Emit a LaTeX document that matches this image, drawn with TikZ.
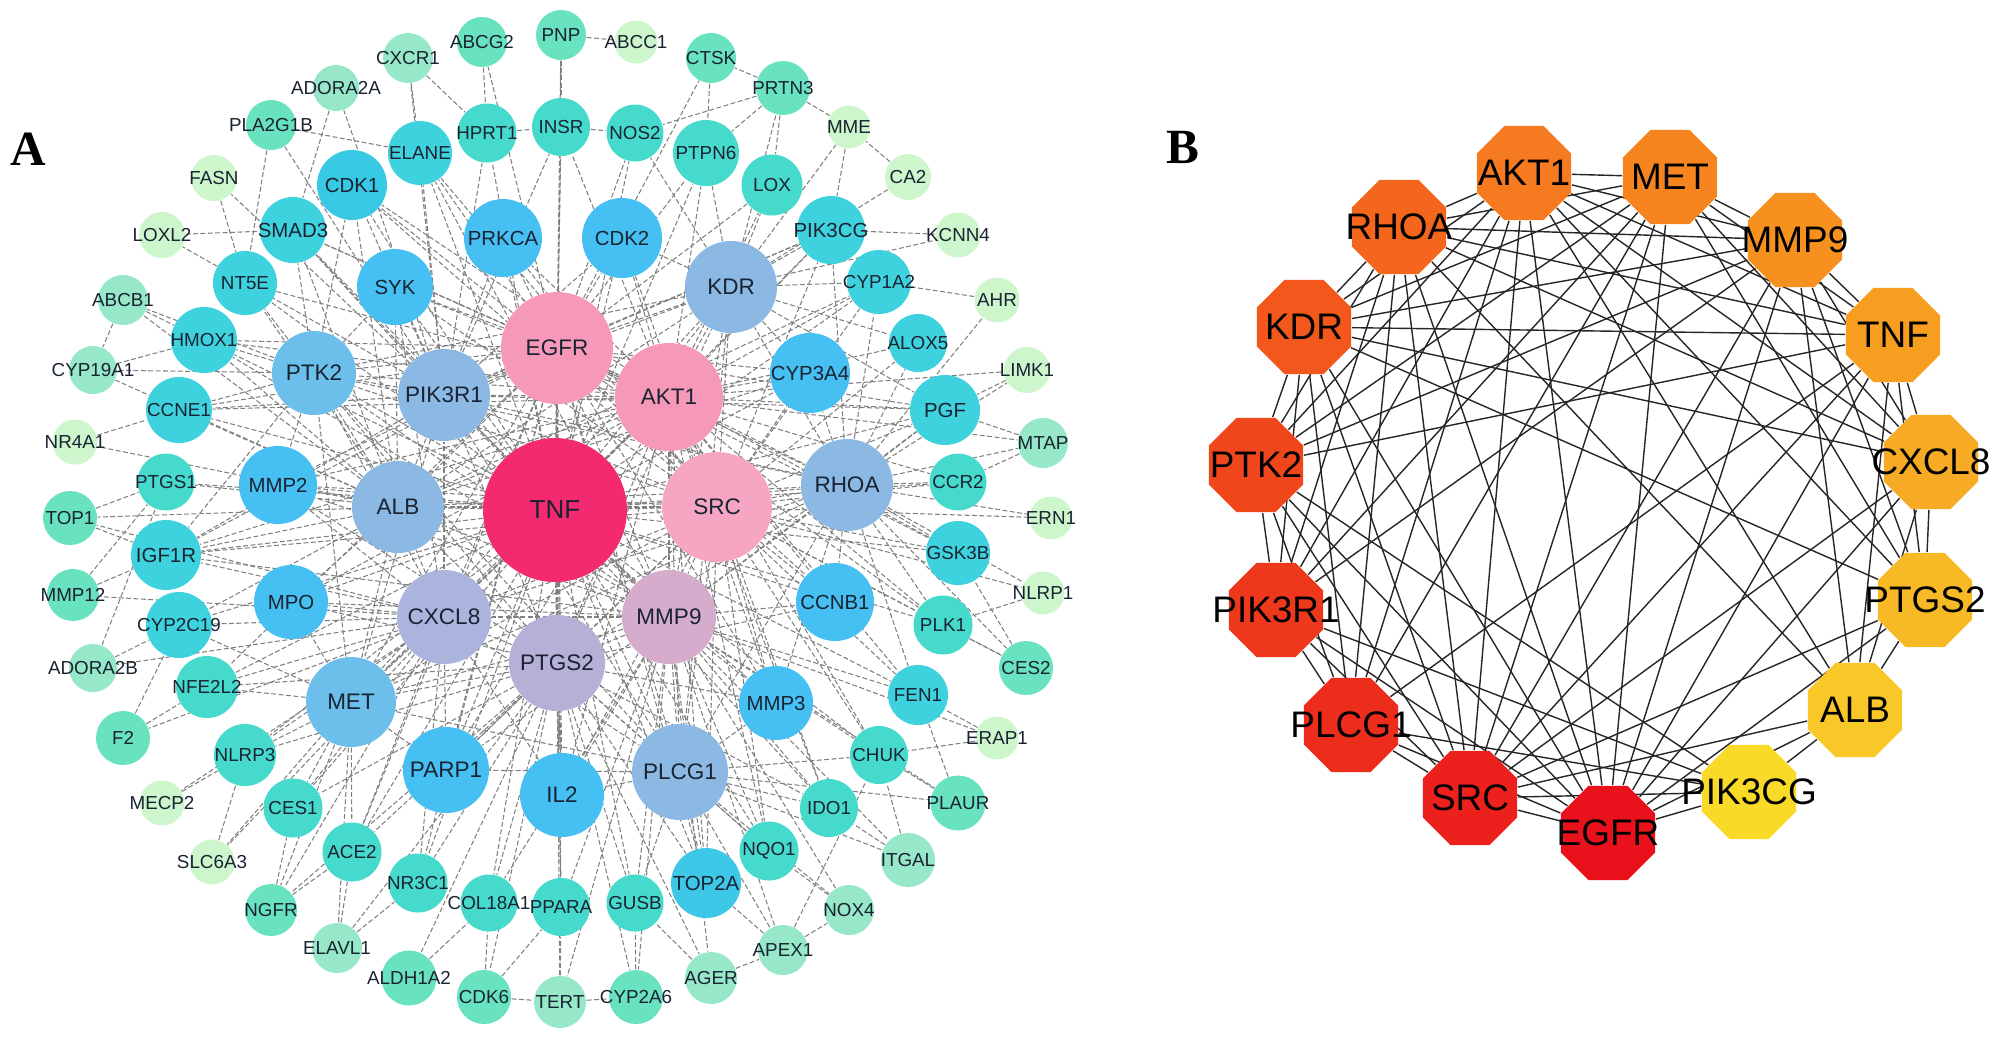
\documentclass[tikz,border=0pt]{standalone}
\usepackage{fontspec}
\setmainfont{Liberation Sans}
\newfontfamily\panelfont{Liberation Serif}
\usetikzlibrary{shapes.geometric}

% node colours, panel A
\definecolor{cTNF}{RGB}{244,42,112}
\definecolor{cPink}{RGB}{246,152,184}
\definecolor{cPinkL}{RGB}{246,166,194}
\definecolor{cMauve}{RGB}{214,172,205}
\definecolor{cLav}{RGB}{182,176,215}
\definecolor{cLavB}{RGB}{170,180,220}
\definecolor{cSteel}{RGB}{140,185,228}
\definecolor{cSteelB}{RGB}{108,190,235}
\definecolor{cSky}{RGB}{70,192,242}
\definecolor{cSkyC}{RGB}{62,200,232}
\definecolor{cCyanB}{RGB}{56,202,228}
\definecolor{cCyan}{RGB}{62,210,222}
\definecolor{cTeal}{RGB}{70,218,205}
\definecolor{cGreen}{RGB}{105,226,192}
\definecolor{cMint}{RGB}{150,232,200}
\definecolor{cPale}{RGB}{205,246,205}
\definecolor{ink}{RGB}{25,35,50}
\definecolor{linkgray}{RGB}{128,128,128}
% node colours, panel B
\definecolor{hEGFR}{RGB}{233,18,28}
\definecolor{hSRC}{RGB}{236,32,28}
\definecolor{hPLCG1}{RGB}{237,45,28}
\definecolor{hPIK3R1}{RGB}{238,56,28}
\definecolor{hPTK2}{RGB}{240,70,28}
\definecolor{hKDR}{RGB}{242,88,28}
\definecolor{hRHOA}{RGB}{243,102,28}
\definecolor{hAKT1}{RGB}{245,122,32}
\definecolor{hMET}{RGB}{246,133,32}
\definecolor{hMMP9}{RGB}{246,145,32}
\definecolor{hTNF}{RGB}{247,158,32}
\definecolor{hCXCL8}{RGB}{247,170,35}
\definecolor{hPTGS2}{RGB}{248,185,38}
\definecolor{hALB}{RGB}{249,200,40}
\definecolor{hPIK3CG}{RGB}{250,218,40}

\pgfdeclarelayer{edges}
\pgfsetlayers{edges,main}

\tikzset{%
	gene/.style    = {circle, inner sep=0pt, draw=none},
	octo/.style    = {regular polygon, regular polygon sides=8, inner sep=0pt, minimum size=1.02cm, draw=none},
	txtH/.style    = {font=\fontsize{7.4}{8}\selectfont, text=ink, inner sep=0pt},
	txtL/.style    = {font=\fontsize{6.4}{7}\selectfont, text=ink, inner sep=0pt},
	txtM/.style    = {font=\fontsize{5.8}{6.5}\selectfont, text=ink, inner sep=0pt},
	txtS/.style    = {font=\fontsize{5.35}{6}\selectfont, text=ink, inner sep=0pt},
	octolab/.style = {font=\fontsize{10.5}{12}\selectfont, text=black, inner sep=0pt},
	link/.style    = {draw=linkgray, line width=0.3pt, dash pattern=on 1.4pt off 0.7pt},
	blink/.style   = {draw=black!85, line width=0.4pt},
	panel/.style   = {font=\panelfont\bfseries\fontsize{14}{16}\selectfont, inner sep=0pt},
}

\begin{document}
\begin{tikzpicture}[x=0.01cm,y=-0.01cm]
\useasboundingbox (0,0) rectangle (2000,1047);

% ---- A: full network
\node[panel] (labA) at (28,149) {A};
\foreach \gn/\x/\y/\d/\c/\f in {
	TNF/555/510/144/cTNF/txtH, EGFR/557/348/112/cPink/txtL, AKT1/669/397/108/cPink/txtL,
	SRC/717/507/110/cPinkL/txtL, MMP9/669/617/94/cMauve/txtL, PTGS2/557/663/96/cLav/txtL,
	CXCL8/444/617/94/cLavB/txtL, ALB/398/507/92/cSteel/txtL, PIK3R1/444/395/92/cSteel/txtL,
	RHOA/847/485/92/cSteel/txtL, KDR/731/287/92/cSteel/txtL, PLCG1/680/772/96/cSteel/txtL,
	MET/351/702/90/cSteelB/txtL, PTK2/314/373/84/cSteelB/txtL, PARP1/446/770/86/cSky/txtL,
	IL2/562/795/84/cSky/txtL,
	SYK/395/287/76/cSky/txtM, PRKCA/503/238/78/cSky/txtM, CDK2/622/238/80/cSky/txtM,
	CYP3A4/810/373/80/cSky/txtM, MMP2/278/485/78/cSky/txtM, MPO/291/602/74/cSky/txtM,
	CCNB1/835/602/78/cSky/txtM, MMP3/776/703/74/cSky/txtM, TOP2A/706/883/70/cSkyC/txtM,
	CDK1/352/185/70/cCyanB/txtM, SMAD3/293/230/66/cCyan/txtM, PIK3CG/831/230/68/cCyan/txtM,
	PGF/945/410/70/cCyan/txtM, IGF1R/166/555/70/cCyan/txtM,
	GSK3B/958/553/64/cCyan/txtS, CCNE1/179/410/66/cCyan/txtS, NT5E/245/283/64/cCyan/txtS,
	HMOX1/204/340/66/cCyan/txtS, ELANE/420/153/64/cCyan/txtS, CYP1A2/879/282/64/cCyan/txtS,
	ALOX5/918/343/58/cCyan/txtS, FEN1/918/695/60/cCyan/txtS, CYP2C19/179/625/66/cCyan/txtS,
	CHUK/879/755/58/cTeal/txtS, IDO1/829/808/58/cTeal/txtS, NQO1/769/851/59/cTeal/txtS,
	PTPN6/706/153/66/cTeal/txtS, LOX/772/185/61/cTeal/txtS, INSR/561/127/58/cTeal/txtS,
	HPRT1/487/133/59/cTeal/txtS, NOS2/635/133/57/cTeal/txtS, CCR2/958/482/57/cTeal/txtS,
	PLK1/943/625/59/cTeal/txtS, PTGS1/166/482/57/cTeal/txtS, NFE2L2/207/687/62/cTeal/txtS,
	NLRP3/245/755/62/cTeal/txtS, CES1/293/808/59/cTeal/txtS, ACE2/352/852/59/cTeal/txtS,
	NR3C1/418/883/59/cTeal/txtS, COL18A1/489/903/57/cTeal/txtS, PPARA/561/907/58/cTeal/txtS,
	GUSB/635/903/57/cTeal/txtS,
	ABCG2/482/42/50/cGreen/txtS, PNP/561/35/50/cGreen/txtS, ABCC1/636/42/43/cPale/txtS,
	CXCR1/408/58/50/cMint/txtS, CTSK/711/58/50/cGreen/txtS, ADORA2A/336/88/46/cMint/txtS,
	PRTN3/783/88/54/cGreen/txtS, PLA2G1B/271/125/50/cGreen/txtS, MME/849/127/43/cPale/txtS,
	FASN/214/178/46/cPale/txtS, CA2/908/177/46/cPale/txtS, LOXL2/162/235/46/cPale/txtS,
	KCNN4/958/235/45/cPale/txtS, ABCB1/123/300/50/cMint/txtS, AHR/997/300/45/cPale/txtS,
	CYP19A1/93/370/48/cMint/txtS, LIMK1/1027/370/46/cPale/txtS, NR4A1/75/442/45/cPale/txtS,
	MTAP/1043/443/50/cMint/txtS, TOP1/70/518/54/cGreen/txtS, ERN1/1051/518/43/cPale/txtS,
	MMP12/73/595/52/cGreen/txtS, NLRP1/1043/593/43/cPale/txtS, ADORA2B/93/668/48/cMint/txtS,
	CES2/1026/668/54/cGreen/txtS, F2/123/738/54/cGreen/txtS, ERAP1/997/738/43/cPale/txtS,
	MECP2/162/803/45/cPale/txtS, PLAUR/958/803/55/cGreen/txtS, SLC6A3/212/862/45/cPale/txtS,
	ITGAL/908/860/54/cMint/txtS, NGFR/271/910/52/cGreen/txtS, NOX4/849/910/50/cMint/txtS,
	ELAVL1/337/948/50/cMint/txtS, APEX1/783/950/50/cMint/txtS, ALDH1A2/409/978/55/cGreen/txtS,
	AGER/711/978/52/cMint/txtS, CDK6/484/997/54/cGreen/txtS, TERT/560/1002/52/cMint/txtS,
	CYP2A6/636/997/54/cGreen/txtS}
	\node[gene, fill=\c, minimum size=\d*0.01cm, label={[\f]center:\gn}] (a\gn) at (\x,\y) {};

\begin{pgfonlayer}{edges}
\foreach \t in {EGFR,AKT1,SRC,MMP9,PTGS2,CXCL8,ALB,PIK3R1,RHOA,KDR,PLCG1,MET,PTK2,PARP1,IL2,SYK,PRKCA,CDK2,CYP3A4,MMP2,MPO,CCNB1,MMP3,TOP2A,CDK1,SMAD3,PIK3CG,PGF,GSK3B,IGF1R,CCNE1,NT5E,HMOX1,ELANE,CYP1A2,FEN1,CHUK,IDO1,NQO1,PTPN6,INSR,HPRT1,NOS2,CCR2,PLK1,PTGS1,CYP2C19,NFE2L2,NLRP3,CES1,ACE2,NR3C1,COL18A1,PPARA,GUSB}
	\draw[link] (aTNF) -- (a\t);
\foreach \t in {AKT1,SRC,MMP9,PTGS2,CXCL8,ALB,PIK3R1,RHOA,KDR,PLCG1,MET,PTK2,PARP1,IL2,SYK,PRKCA,CDK2,CYP3A4,MMP2,CCNB1,MMP3,TOP2A,CDK1,SMAD3,PIK3CG,PGF,GSK3B,IGF1R,CCNE1,HMOX1,ELANE,PTPN6,INSR,NOS2,LOX,PLK1,NFE2L2,ACE2,NR3C1,PPARA,ABCG2,PNP,CTSK}
	\draw[link] (aEGFR) -- (a\t);
\foreach \t in {SRC,MMP9,PTGS2,CXCL8,ALB,PIK3R1,RHOA,KDR,PLCG1,MET,PTK2,PARP1,IL2,SYK,PRKCA,CDK2,CYP3A4,MMP2,MPO,CCNB1,MMP3,TOP2A,CDK1,SMAD3,PIK3CG,PGF,GSK3B,IGF1R,CCNE1,NT5E,HMOX1,CYP1A2,ALOX5,FEN1,CHUK,IDO1,NQO1,PTPN6,LOX,INSR,CCR2,PLK1,LIMK1,MTAP}
	\draw[link] (aAKT1) -- (a\t);
\foreach \t in {MMP9,PTGS2,CXCL8,ALB,PIK3R1,RHOA,KDR,PLCG1,MET,PTK2,PARP1,IL2,SYK,PRKCA,CDK2,CYP3A4,MMP2,CCNB1,MMP3,TOP2A,CDK1,PIK3CG,PGF,GSK3B,IGF1R,ELANE,CYP1A2,ALOX5,FEN1,CHUK,IDO1,NQO1,CCR2,PLK1,ERN1,NLRP1,CES2}
	\draw[link] (aSRC) -- (a\t);
\foreach \t in {PTGS2,CXCL8,ALB,PIK3R1,RHOA,KDR,PLCG1,MET,PTK2,PARP1,IL2,MMP2,MPO,CCNB1,MMP3,TOP2A,SMAD3,PGF,IGF1R,HMOX1,ELANE,FEN1,CHUK,IDO1,NQO1,GUSB,PPARA,COL18A1,ERAP1,PLAUR,ITGAL,NOX4,APEX1,AGER,CYP2A6,TERT}
	\draw[link] (aMMP9) -- (a\t);
\foreach \t in {CXCL8,ALB,PIK3R1,RHOA,KDR,PLCG1,MET,PTK2,PARP1,IL2,MPO,MMP2,CCNB1,MMP3,TOP2A,NFE2L2,NLRP3,CES1,ACE2,NR3C1,COL18A1,PPARA,GUSB,CDK6,ALDH1A2,ELAVL1,CYP2A6,TERT,AGER,NGFR,IDO1,NQO1}
	\draw[link] (aPTGS2) -- (a\t);
\foreach \t in {ALB,PIK3R1,RHOA,PLCG1,MET,PTK2,PARP1,IL2,MPO,MMP2,SYK,IGF1R,CYP2C19,NFE2L2,NLRP3,CES1,ACE2,NR3C1,F2,ADORA2B,MMP12,TOP1,SLC6A3,MECP2,NGFR}
	\draw[link] (aCXCL8) -- (a\t);
\foreach \t in {PIK3R1,RHOA,KDR,MET,PTK2,MPO,MMP2,SYK,IGF1R,CCNE1,PTGS1,CYP2C19,HMOX1,NT5E,SMAD3,CDK1,CYP19A1,NR4A1,ABCB1,TOP1,CYP1A2,CYP3A4}
	\draw[link] (aALB) -- (a\t);
\foreach \t in {RHOA,KDR,PLCG1,MET,PTK2,SYK,PRKCA,CDK2,CDK1,SMAD3,ELANE,HPRT1,INSR,IGF1R,CCNE1,PIK3CG,PGF,LOXL2,FASN,PLA2G1B,ADORA2A,CXCR1}
	\draw[link] (aPIK3R1) -- (a\t);
\foreach \t in {KDR,PLCG1,MET,PTK2,CYP3A4,CCNB1,PGF,GSK3B,CCR2,PLK1,FEN1,ERN1,MTAP,LIMK1,AHR,CYP1A2,ALOX5,NLRP1,CES2,MMP3,PIK3CG}
	\draw[link] (aRHOA) -- (a\t);
\foreach \t in {PLCG1,MET,PTK2,CDK2,PIK3CG,PTPN6,LOX,NOS2,PRTN3,MME,CA2,KCNN4,CYP1A2,PGF,ALOX5,CYP3A4}
	\draw[link] (aKDR) -- (a\t);
\foreach \t in {MET,PTK2,PARP1,IL2,MMP3,TOP2A,NQO1,IDO1,CHUK,GUSB,APEX1,NOX4,ITGAL,PLAUR}
	\draw[link] (aPLCG1) -- (a\t);
\foreach \t in {PTK2,PARP1,MPO,NLRP3,CES1,ACE2,NFE2L2,ELAVL1,NGFR,SLC6A3,CYP2C19}
	\draw[link] (aMET) -- (a\t);
\foreach \t in {SYK,MMP2,CCNE1,HMOX1,NT5E,IGF1R,SMAD3,CDK1,ABCB1,CYP19A1}
	\draw[link] (aPTK2) -- (a\t);
% outer ring
\foreach \s/\t in {PNP/ABCC1, PNP/INSR, ABCG2/HPRT1, CXCR1/ELANE, CXCR1/HPRT1, ADORA2A/SMAD3,
	PLA2G1B/NT5E, PLA2G1B/ELANE, FASN/NT5E, LOXL2/SMAD3, ABCB1/CYP19A1, ABCB1/HMOX1,
	CYP19A1/HMOX1, NR4A1/CCNE1, TOP1/PTGS1, TOP1/IGF1R, MMP12/IGF1R, MMP12/PTGS1,
	ADORA2B/CYP2C19, ADORA2B/PTGS1, F2/NFE2L2, F2/CYP2C19, MECP2/NLRP3, SLC6A3/NLRP3,
	NGFR/ACE2, NGFR/CES1, ELAVL1/ACE2, ELAVL1/NR3C1, ALDH1A2/COL18A1, CDK6/COL18A1,
	CDK6/TERT, CDK6/PPARA, TERT/PPARA, TERT/CYP2A6, CYP2A6/GUSB, AGER/GUSB, AGER/APEX1,
	APEX1/TOP2A, APEX1/NOX4, APEX1/CHUK, NOX4/NQO1, ITGAL/CHUK, ITGAL/IDO1, PLAUR/CHUK,
	PLAUR/FEN1, ERAP1/FEN1, ERAP1/CHUK, CES2/PLK1, CES2/GSK3B, NLRP1/PLK1, MTAP/PGF,
	MTAP/CCR2, LIMK1/PGF, AHR/CYP1A2, KCNN4/PIK3CG, CA2/MME, MME/PRTN3, MME/PIK3CG,
	PRTN3/CTSK, PRTN3/LOX, PRTN3/PTPN6, PRTN3/NOS2, CTSK/PTPN6, INSR/NOS2, HPRT1/INSR}
	\draw[link] (a\s) -- (a\t);
\end{pgfonlayer}

% ---- B: hub genes
\node[panel] (labB) at (1183,147) {B};
\foreach \gn/\x/\y/\c in {
	EGFR/1608/833/hEGFR, SRC/1470/798/hSRC, PLCG1/1351/725/hPLCG1, PIK3R1/1276/610/hPIK3R1,
	PTK2/1256/465/hPTK2, KDR/1304/327/hKDR, RHOA/1399/227/hRHOA, AKT1/1524/173/hAKT1,
	MET/1670/177/hMET, MMP9/1795/240/hMMP9, TNF/1893/335/hTNF, CXCL8/1931/462/hCXCL8,
	PTGS2/1925/600/hPTGS2, ALB/1855/710/hALB, PIK3CG/1749/792/hPIK3CG}
	\node[octo, fill=\c, label={[octolab]center:\gn}] (b\gn) at (\x,\y) {};

\begin{pgfonlayer}{edges}
\foreach \t in {SRC,PLCG1,PIK3R1,PTK2,KDR,RHOA,AKT1,MET,MMP9,TNF,CXCL8,PTGS2,ALB,PIK3CG}
	\draw[blink] (bEGFR) -- (b\t);
\foreach \t in {PLCG1,PIK3R1,PTK2,KDR,RHOA,AKT1,MET,MMP9,TNF,CXCL8,PTGS2,ALB,PIK3CG}
	\draw[blink] (bSRC) -- (b\t);
\foreach \t in {PIK3R1,PTK2,KDR,RHOA,AKT1,MET,TNF,PIK3CG}
	\draw[blink] (bPLCG1) -- (b\t);
\foreach \t in {PTK2,KDR,RHOA,AKT1,MET,MMP9,PIK3CG}
	\draw[blink] (bPIK3R1) -- (b\t);
\foreach \t in {KDR,RHOA,AKT1,MET,MMP9,TNF,PIK3CG}
	\draw[blink] (bPTK2) -- (b\t);
\foreach \t in {RHOA,AKT1,MET,MMP9,TNF,CXCL8,PTGS2}
	\draw[blink] (bKDR) -- (b\t);
\foreach \t in {AKT1,MET,MMP9,TNF,CXCL8,ALB}
	\draw[blink] (bRHOA) -- (b\t);
\foreach \t in {MET,MMP9,TNF,CXCL8,PTGS2,ALB}
	\draw[blink] (bAKT1) -- (b\t);
\foreach \t in {MMP9,TNF,CXCL8,PTGS2}
	\draw[blink] (bMET) -- (b\t);
\foreach \t in {TNF,CXCL8,PTGS2,ALB}
	\draw[blink] (bMMP9) -- (b\t);
\foreach \t in {CXCL8,PTGS2,ALB}
	\draw[blink] (bTNF) -- (b\t);
\foreach \s/\t in {CXCL8/PTGS2, CXCL8/ALB, PTGS2/ALB, ALB/PIK3CG}
	\draw[blink] (b\s) -- (b\t);
\end{pgfonlayer}

\end{tikzpicture}
\end{document}
